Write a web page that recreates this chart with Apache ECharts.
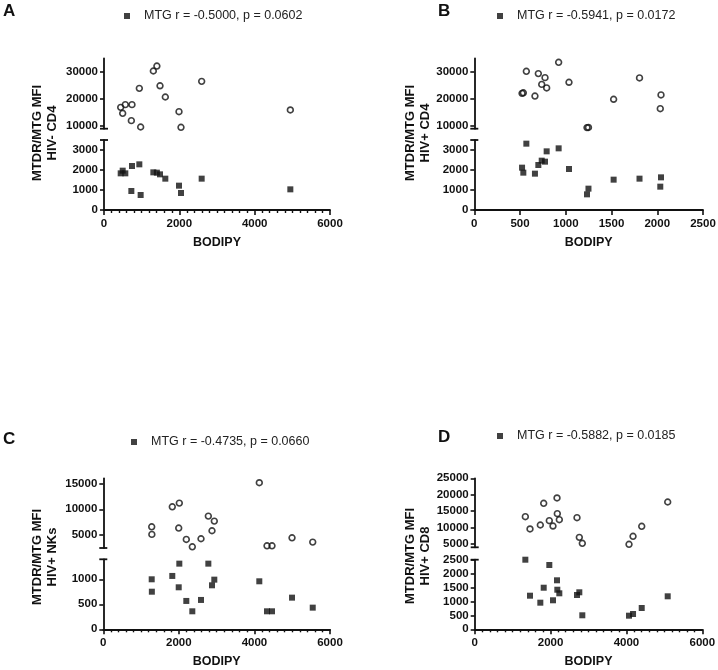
<!DOCTYPE html>
<html><head><meta charset="utf-8">
<script src="https://cdn.jsdelivr.net/npm/echarts@6/dist/echarts.min.js"></script>
<style>html,body{margin:0;padding:0;background:#fff}#c{width:718px;height:670px}</style>
</head><body><div id="c"></div>
<script>
// ---- data ----
const A_bodipy = [443, 496, 566, 726, 743, 938, 973, 1310, 1404, 1487, 1628, 1991, 2044, 2593, 4947];
const A_mtdr   = [16900, 14700, 17900, 11980, 17900, 23950, 9630, 30370, 32200, 24900, 20740, 15300, 9510, 26540, 15930];
const A_mtg    = [1833, 1967, 1833, 950, 2200, 2283, 750, 1883, 1867, 1783, 1567, 1217, 850, 1567, 1033];

const B_bodipy = [522, 536, 569, 663, 700, 737, 773, 791, 922, 1035, 1232, 1248, 1523, 1806, 2033, 2041];
const B_mtdr   = [22100, 22300, 30260, 21100, 29400, 25400, 27900, 24100, 33600, 26200, 9400, 9450, 19900, 27800, 16400, 21500];
const B_mtg    = [2117, 1867, 3317, 1817, 2250, 2467, 2417, 2933, 3083, 2050, 783, 1067, 1517, 1567, 1167, 1633];

const C_bodipy = [1281, 1285, 1826, 2012, 1996, 2197, 2356, 2586, 2780, 2938, 2877, 4129, 4333, 4465, 4995, 5543];
const C_mtdr   = [6610, 5130, 10480, 11200, 6360, 4160, 2730, 4290, 8680, 7710, 5840, 15140, 2930, 2930, 4480, 3640];
const C_mtg    = [1000, 752, 1067, 1313, 840, 567, 360, 587, 1313, 993, 880, 960, 360, 360, 633, 433];

const D_bodipy = [1335, 1458, 1730, 1819, 1967, 2064, 2170, 2178, 2231, 2697, 2758, 2837, 4068, 4174, 4403, 5088];
const D_mtdr   = [13260, 9500, 10720, 17350, 12030, 10410, 18980, 14170, 12340, 12950, 6950, 5120, 4820, 7260, 10320, 17750];
const D_mtg    = [2500, 1207, 956, 1494, 2310, 1042, 1760, 1422, 1293, 1232, 1329, 503, 489, 550, 765, 1185];

const A_upTicks = [10000, 20000, 30000];
const A_lowTicks = [0, 1000, 2000, 3000];
const B_upTicks = [10000, 20000, 30000];
const B_lowTicks = [0, 1000, 2000, 3000];
const C_upTicks = [5000, 10000, 15000];
const C_lowTicks = [0, 500, 1000];
const D_upTicks = [5000, 10000, 15000, 20000, 25000];
const D_lowTicks = [0, 500, 1000, 1500, 2000, 2500];

const panelLetters = ['A', 'B', 'C', 'D'];
const legendTexts = ['MTG r = -0.5000, p = 0.0602', 'MTG r = -0.5941, p = 0.0172',
                     'MTG r = -0.4735, p = 0.0660', 'MTG r = -0.5882, p = 0.0185'];
const cellLabels = ['HIV- CD4', 'HIV+ CD4', 'HIV+ NKs', 'HIV+ CD8'];
const yTitle = 'MTDR/MTG MFI';
const xTitle = 'BODIPY';

// ---- layout / style ----
const FONT = '"Liberation Sans", Arial, sans-serif';
const INK = '#111';
const panels = [
  {bodipy: A_bodipy, mtdr: A_mtdr, mtg: A_mtg, upTicks: A_upTicks, lowTicks: A_lowTicks,
   x: {max: 6000, interval: 2000, minor: 10}, up: [9000, 35000], low: [0, 3500],
   L: {left: 104, width: 226, upTop: 58.5, upH: 70.2, lowTop: 140, lowH: 70,
       letter: [3, 11], legend: [124, 9.5], yName: [44.5, 133]}},
  {bodipy: B_bodipy, mtdr: B_mtdr, mtg: B_mtg, upTicks: B_upTicks, lowTicks: B_lowTicks,
   x: {max: 2500, interval: 500, minor: 0}, up: [9000, 35000], low: [0, 3500],
   L: {left: 474.3, width: 228.7, upTop: 58.5, upH: 70.2, lowTop: 140, lowH: 70,
       letter: [438, 11], legend: [497, 9.5], yName: [417.5, 133]}},
  {bodipy: C_bodipy, mtdr: C_mtdr, mtg: C_mtg, upTicks: C_upTicks, lowTicks: C_lowTicks,
   x: {max: 6000, interval: 2000, minor: 10}, up: [2500, 16000], low: [0, 1400],
   L: {left: 103.3, width: 226.7, upTop: 478.3, upH: 69.7, lowTop: 559.3, lowH: 70,
       letter: [3, 439], legend: [131, 435.5], yName: [44.5, 557]}},
  {bodipy: D_bodipy, mtdr: D_mtdr, mtg: D_mtg, upTicks: D_upTicks, lowTicks: D_lowTicks,
   x: {max: 6000, interval: 2000, minor: 10}, up: [3900, 25000], low: [0, 2500],
   L: {left: 474.7, width: 227.6, upTop: 478.3, upH: 69, lowTop: 559.7, lowH: 69.6,
       letter: [438, 437.5], legend: [497, 429.5], yName: [417.5, 556]}}
];

const grid = [], xAxis = [], yAxis = [], series = [], legend = [], graphic = [];
const lineStyle = {color: INK, width: 1.8};
const plain = v => String(v);
const labelStyle = {color: INK, fontWeight: 'bold', fontSize: 11.5, fontFamily: FONT, formatter: plain};

panels.forEach((p, i) => {
  const L = p.L;
  const gu = 2 * i, gl = 2 * i + 1;
  grid.push({left: L.left, top: L.upTop, width: L.width, height: L.upH, containLabel: false, outerBoundsMode: 'none'});
  grid.push({left: L.left, top: L.lowTop, width: L.width, height: L.lowH, containLabel: false, outerBoundsMode: 'none'});

  xAxis.push({type: 'value', gridIndex: gu, min: 0, max: p.x.max, show: false});
  xAxis.push({type: 'value', gridIndex: gl, min: 0, max: p.x.max, interval: p.x.interval,
    axisLine: {show: true, onZero: false, lineStyle},
    axisTick: {show: true, length: 5, lineStyle: {color: INK, width: 1.6}},
    minorTick: {show: p.x.minor > 0, splitNumber: p.x.minor || 5, length: 3, lineStyle: {color: INK, width: 1.4}},
    axisLabel: Object.assign({margin: 8}, labelStyle),
    splitLine: {show: false}, minorSplitLine: {show: false},
    name: xTitle, nameLocation: 'middle', nameGap: 26,
    nameTextStyle: {color: INK, fontWeight: 'bold', fontSize: 12.5, fontFamily: FONT}});

  yAxis.push({type: 'value', gridIndex: gu, min: p.up[0], max: p.up[1],
    axisLine: {show: true, onZero: false, lineStyle, symbol: ['rect', 'none'], symbolSize: [8, 1.8]},
    axisTick: {show: true, length: 4, lineStyle: {color: INK, width: 1.6}, customValues: p.upTicks},
    axisLabel: Object.assign({margin: 6, customValues: p.upTicks}, labelStyle),
    splitLine: {show: false}});
  yAxis.push({type: 'value', gridIndex: gl, min: p.low[0], max: p.low[1],
    axisLine: {show: true, onZero: false, lineStyle, symbol: ['none', 'rect'], symbolSize: [8, 1.8]},
    axisTick: {show: true, length: 4, lineStyle: {color: INK, width: 1.6}, customValues: p.lowTicks},
    axisLabel: Object.assign({margin: 6, customValues: p.lowTicks}, labelStyle),
    splitLine: {show: false}});

  series.push({type: 'scatter', name: 'MTDR ' + panelLetters[i], xAxisIndex: gu, yAxisIndex: gu,
    data: p.bodipy.map((b, j) => [b, p.mtdr[j]]),
    symbol: 'circle', symbolSize: 5.8,
    itemStyle: {color: 'rgba(0,0,0,0)', borderColor: INK, borderWidth: 1.6}, silent: true});
  series.push({type: 'scatter', name: legendTexts[i], xAxisIndex: gl, yAxisIndex: gl,
    data: p.bodipy.map((b, j) => [b, p.mtg[j]]),
    symbol: 'rect', symbolSize: 6, itemStyle: {color: INK}, silent: true});

  legend.push({data: [legendTexts[i]], left: L.legend[0], top: L.legend[1], padding: 0,
    icon: 'rect', itemWidth: 6, itemHeight: 6, selectedMode: false,
    textStyle: {color: '#222', fontSize: 12.5, fontFamily: FONT, padding: [0, 0, 0, 9]}});

  graphic.push({type: 'text', x: L.letter[0], y: L.letter[1], silent: true,
    style: {text: panelLetters[i], fill: INK, font: 'bold 17px ' + FONT, align: 'left', verticalAlign: 'middle'}});
  graphic.push({type: 'text', x: L.yName[0], y: L.yName[1], rotation: Math.PI / 2, silent: true,
    style: {text: yTitle + '\n' + cellLabels[i], fill: INK, font: 'bold 13px ' + FONT,
            lineHeight: 15, align: 'center', verticalAlign: 'middle'}});
});

const chart = echarts.init(document.getElementById('c'), null, {renderer: 'canvas', width: 718, height: 670});
chart.setOption({
  animation: false,
  backgroundColor: '#fff',
  textStyle: {fontFamily: FONT},
  grid, xAxis, yAxis, series, legend, graphic
});
</script>
</body></html>
